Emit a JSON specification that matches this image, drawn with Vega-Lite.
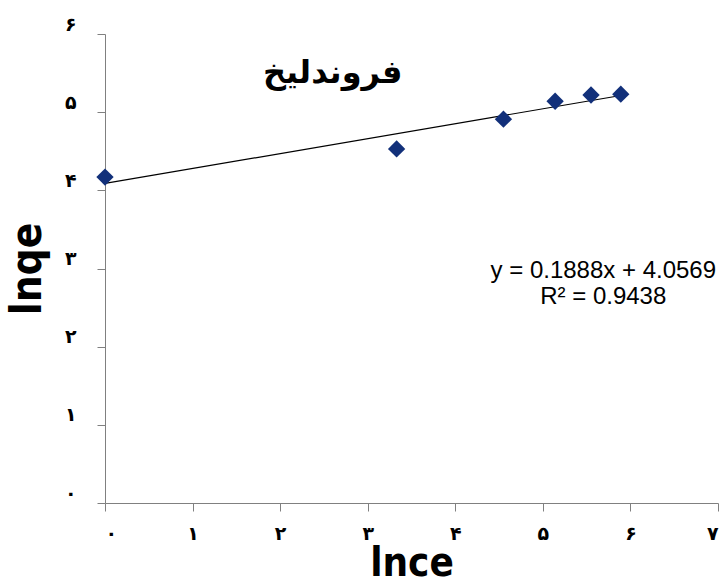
{
  "$schema": "https://vega.github.io/schema/vega-lite/v6.json",
  "autosize": {"type": "none"},
  "width": 613,
  "height": 469,
  "padding": {"left": 105, "top": 34, "right": 5, "bottom": 83},
  "background": "white",
  "config": {"view": {"stroke": null}},
  "datasets": {
    "points": [
      {"lnce": 0.0, "lnqe": 4.17},
      {"lnce": 3.33, "lnqe": 4.53},
      {"lnce": 4.55, "lnqe": 4.91},
      {"lnce": 5.14, "lnqe": 5.14},
      {"lnce": 5.55, "lnqe": 5.22},
      {"lnce": 5.89, "lnqe": 5.23}
    ],
    "labels": [
      {"lnce": 2.6, "lnqe": 5.5, "text": "فروندلیخ", "kind": "title"},
      {"lnce": 5.69, "lnqe": 2.97, "text": "y = 0.1888x + 4.0569", "kind": "eq"},
      {"lnce": 5.69, "lnqe": 2.64, "text": "R² = 0.9438", "kind": "eq"}
    ]
  },
  "layer": [
    {
      "data": {"name": "points"},
      "transform": [{"regression": "lnqe", "on": "lnce"}],
      "mark": {"type": "line", "color": "black", "strokeWidth": 1.2},
      "encoding": {
        "x": {
          "field": "lnce", "type": "quantitative",
          "scale": {"domain": [0, 7], "nice": false, "zero": false},
          "axis": {
            "values": [0, 1, 2, 3, 4, 5, 6, 7],
            "labelExpr": "['۰','۱','۲','۳','۴','۵','۶','۷'][datum.value]",
            "grid": false,
            "domainColor": "#808080",
            "tickColor": "#808080",
            "tickSize": 8,
            "labelFont": "DejaVu Sans",
            "labelFontSize": 19,
            "labelFontWeight": "bold",
            "labelColor": "black",
            "labelPadding": 13,
            "title": "lnce",
            "titleFont": "DejaVu Sans Condensed",
            "titleFontSize": 40,
            "titleFontWeight": "bold",
            "titleColor": "black",
            "titlePadding": 0
          }
        },
        "y": {
          "field": "lnqe", "type": "quantitative",
          "scale": {"domain": [0, 6], "nice": false, "zero": false},
          "axis": {
            "values": [0, 1, 2, 3, 4, 5, 6],
            "labelExpr": "['۰','۱','۲','۳','۴','۵','۶'][datum.value]",
            "grid": false,
            "domainColor": "#808080",
            "tickColor": "#808080",
            "tickSize": 8,
            "labelFont": "DejaVu Sans",
            "labelFontSize": 19,
            "labelFontWeight": "bold",
            "labelColor": "black",
            "labelPadding": 21,
            "labelBaseline": "bottom",
            "title": "lnqe",
            "titleFont": "DejaVu Sans Condensed",
            "titleFontSize": 42,
            "titleFontWeight": "bold",
            "titleColor": "black",
            "titlePadding": 15
          }
        }
      }
    },
    {
      "data": {"name": "points"},
      "mark": {"type": "point", "shape": "diamond", "filled": true, "color": "#12307a", "size": 300, "opacity": 1},
      "encoding": {
        "x": {"field": "lnce", "type": "quantitative"},
        "y": {"field": "lnqe", "type": "quantitative"}
      }
    },
    {
      "data": {"name": "labels"},
      "transform": [{"filter": "datum.kind == 'title'"}],
      "mark": {"type": "text", "font": "DejaVu Sans", "fontSize": 32, "fontWeight": "bold", "color": "black", "align": "center", "baseline": "middle"},
      "encoding": {
        "x": {"field": "lnce", "type": "quantitative"},
        "y": {"field": "lnqe", "type": "quantitative"},
        "text": {"field": "text"}
      }
    },
    {
      "data": {"name": "labels"},
      "transform": [{"filter": "datum.kind == 'eq'"}],
      "mark": {"type": "text", "font": "Liberation Sans", "fontSize": 24, "color": "black", "align": "center", "baseline": "middle"},
      "encoding": {
        "x": {"field": "lnce", "type": "quantitative"},
        "y": {"field": "lnqe", "type": "quantitative"},
        "text": {"field": "text"}
      }
    }
  ]
}
